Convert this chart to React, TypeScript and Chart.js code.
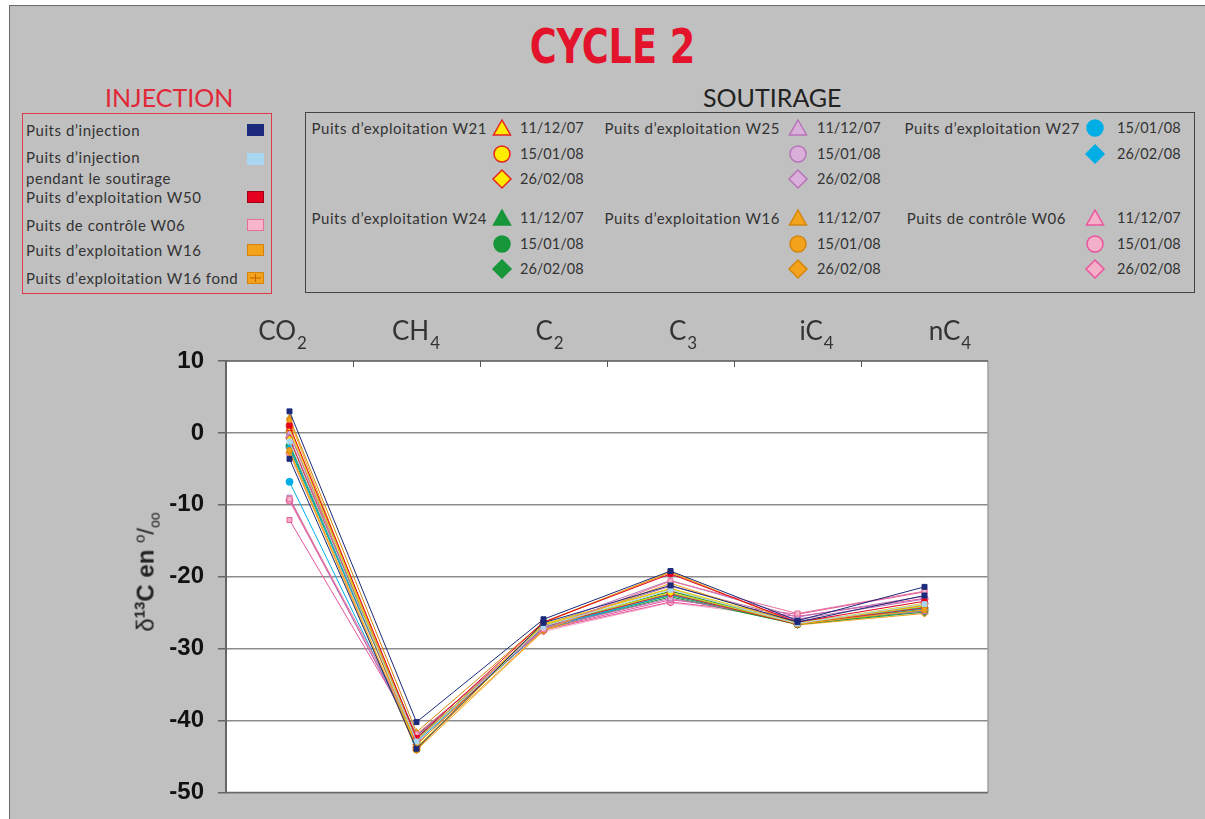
import React, { useEffect, useRef } from "react";
import { Chart, registerables } from "chart.js";

Chart.register(...registerables);

// ---------- DATA ----------
const categories = ["CO2", "CH4", "C2", "C3", "iC4", "nC4"];
const categoryMain = ["CO", "CH", "C", "C", "iC", "nC"];
const categorySub = ["2", "4", "2", "3", "4", "4"];
const yTickValues = [10, 0, -10, -20, -30, -40, -50];

const injA = [3.0, -40.2, -25.9, -19.2, -26.1, -21.4];
const injB = [-3.6, -43.9, -26.4, -21.2, -26.3, -22.6];
const injSout = [-1.2, -42.9, -26.9, -21.8, -26.5, -23.8];
const expW50 = [1.0, -42.4, -26.3, -19.6, -26.3, -23.4];
const ctlW06 = [-9.2, -41.9, -27.3, -20.6, -25.1, -22.0];
const expW16 = [1.8, -43.4, -26.4, -19.3, -26.6, -23.9];
const expW16Fond = [-2.4, -43.8, -27.4, -20.9, -26.6, -24.6];
const w21_1112 = [0.6, -42.7, -26.6, -21.6, -26.4, -24.1];
const w21_1501 = [1.0, -43.7, -26.7, -22.2, -26.5, -23.7];
const w21_2602 = [-0.8, -43.3, -26.9, -22.4, -26.6, -24.3];
const w25_1112 = [0.0, -42.2, -26.8, -20.5, -25.6, -22.7];
const w25_1501 = [-0.6, -42.6, -26.9, -21.3, -25.9, -23.1];
const w25_2602 = [-9.0, -42.8, -27.1, -23.0, -26.1, -24.8];
const w27_1501 = [-6.8, -43.0, -27.2, -22.5, -26.4, -24.4];
const w27_2602 = [-2.0, -42.8, -27.1, -22.3, -26.4, -24.2];
const w24_1112 = [-1.5, -42.1, -27.0, -22.0, -26.5, -24.5];
const w24_1501 = [-1.8, -42.5, -27.1, -22.6, -26.6, -24.7];
const w24_2602 = [-2.1, -42.9, -27.2, -22.8, -26.6, -24.9];
const w16_1112 = [2.1, -41.6, -26.3, -19.4, -26.5, -24.0];
const w16_1501 = [0.2, -44.0, -26.6, -21.7, -26.6, -24.6];
const w16_2602 = [-2.7, -44.1, -27.5, -22.0, -26.7, -25.1];
const w06_1112 = [-12.1, -42.0, -27.3, -23.2, -25.2, -22.1];
const w06_1501 = [-9.4, -42.4, -27.4, -23.5, -25.5, -23.0];
const w06_2602 = [-3.0, -42.6, -27.6, -23.6, -25.8, -25.0];

const injectionLabels = [
  "Puits d’injection",
  "Puits d’injection pendant le soutirage",
  "Puits d’exploitation W50",
  "Puits de contrôle W06",
  "Puits d’exploitation W16",
  "Puits d’exploitation W16 fond",
];
const dateLabels = ["11/12/07", "15/01/08", "26/02/08"];

// ---------- STYLES ----------
const C = {
  navy: "#1b2a7a",
  lightBlue: "#a9d6f0",
  red: "#e5001f",
  pinkFill: "#f7b6cb",
  pinkStroke: "#e46f9b",
  orange: "#f2a31b",
  orangeDark: "#d4860c",
  yellow: "#ffec00",
  yellowLine: "#e2d400",
  w21Stroke: "#e52420",
  purpleFill: "#dab0da",
  purpleStroke: "#b873b8",
  cyan: "#00aee6",
  green: "#17963a",
  w06Fill: "#f4b0c9",
  w06Stroke: "#e8559c",
};

type DS = { label: string; data: number[]; line: string; fill: string; stroke: string; style: any };
const seriesList: DS[] = [
  { label: "Puits d’injection", data: injA, line: C.navy, fill: C.navy, stroke: C.navy, style: "rect" },
  { label: "Puits d’injection (2)", data: injB, line: C.navy, fill: C.navy, stroke: C.navy, style: "rect" },
  { label: "Puits d’injection pendant le soutirage", data: injSout, line: C.lightBlue, fill: C.lightBlue, stroke: C.lightBlue, style: "rect" },
  { label: "Puits d’exploitation W50", data: expW50, line: C.red, fill: C.red, stroke: C.red, style: "rect" },
  { label: "Puits de contrôle W06", data: ctlW06, line: C.pinkStroke, fill: C.pinkFill, stroke: C.pinkStroke, style: "rect" },
  { label: "Puits d’exploitation W16", data: expW16, line: C.orange, fill: C.orange, stroke: C.orangeDark, style: "rect" },
  { label: "Puits d’exploitation W16 fond", data: expW16Fond, line: C.orange, fill: C.orange, stroke: C.orangeDark, style: "rect" },
  { label: "W21 11/12/07", data: w21_1112, line: C.yellowLine, fill: C.yellow, stroke: C.w21Stroke, style: "triangle" },
  { label: "W21 15/01/08", data: w21_1501, line: C.yellowLine, fill: C.yellow, stroke: C.w21Stroke, style: "circle" },
  { label: "W21 26/02/08", data: w21_2602, line: C.w21Stroke, fill: C.yellow, stroke: C.w21Stroke, style: "rectRot" },
  { label: "W25 11/12/07", data: w25_1112, line: C.purpleStroke, fill: C.purpleFill, stroke: C.purpleStroke, style: "triangle" },
  { label: "W25 15/01/08", data: w25_1501, line: C.purpleStroke, fill: C.purpleFill, stroke: C.purpleStroke, style: "circle" },
  { label: "W25 26/02/08", data: w25_2602, line: C.purpleStroke, fill: C.purpleFill, stroke: C.purpleStroke, style: "rect" },
  { label: "W27 15/01/08", data: w27_1501, line: C.cyan, fill: C.cyan, stroke: C.cyan, style: "circle" },
  { label: "W27 26/02/08", data: w27_2602, line: C.cyan, fill: C.cyan, stroke: C.cyan, style: "rectRot" },
  { label: "W24 11/12/07", data: w24_1112, line: C.green, fill: C.green, stroke: C.green, style: "triangle" },
  { label: "W24 15/01/08", data: w24_1501, line: C.green, fill: C.green, stroke: C.green, style: "circle" },
  { label: "W24 26/02/08", data: w24_2602, line: C.green, fill: C.green, stroke: C.green, style: "rectRot" },
  { label: "W16 11/12/07", data: w16_1112, line: C.orangeDark, fill: C.orange, stroke: C.orangeDark, style: "triangle" },
  { label: "W16 15/01/08", data: w16_1501, line: C.orange, fill: C.orange, stroke: C.orangeDark, style: "circle" },
  { label: "W16 26/02/08", data: w16_2602, line: C.orange, fill: C.orange, stroke: C.orangeDark, style: "rectRot" },
  { label: "W06 11/12/07", data: w06_1112, line: C.w06Stroke, fill: C.w06Fill, stroke: C.w06Stroke, style: "rect" },
  { label: "W06 15/01/08", data: w06_1501, line: C.w06Stroke, fill: C.w06Fill, stroke: C.w06Stroke, style: "circle" },
  { label: "W06 26/02/08", data: w06_2602, line: C.w06Fill, fill: C.w06Fill, stroke: C.w06Stroke, style: "rectRot" },
];

const framePlugin = {
  id: "framePlugin",
  beforeDraw(chart: any) {
    const { ctx, chartArea: a } = chart;
    ctx.save();
    ctx.fillStyle = "#ffffff";
    ctx.fillRect(a.left, a.top, a.right - a.left, a.bottom - a.top);
    ctx.restore();
  },
  afterDraw(chart: any) {
    const { ctx, chartArea: a } = chart;
    const xs = chart.scales.x;
    ctx.save();
    ctx.lineWidth = 1.5;
    ctx.strokeStyle = "#a0a0a0";
    ctx.beginPath();
    ctx.moveTo(a.right, a.top);
    ctx.lineTo(a.right, a.bottom);
    ctx.stroke();
    ctx.strokeStyle = "#6a6a6a";
    ctx.beginPath();
    ctx.moveTo(a.left, a.top);
    ctx.lineTo(a.right, a.top);
    ctx.moveTo(a.left, a.bottom);
    ctx.lineTo(a.right, a.bottom);
    ctx.stroke();
    // top category boundary ticks (inward)
    ctx.lineWidth = 1;
    ctx.strokeStyle = "#555";
    ctx.beginPath();
    for (let i = 1; i < categories.length; i++) {
      const bx = Math.round((xs.getPixelForValue(i - 1) + xs.getPixelForValue(i)) / 2) + 0.5;
      ctx.moveTo(bx, a.top);
      ctx.lineTo(bx, a.top + 6);
    }
    ctx.stroke();
    // category labels with subscripts
    ctx.fillStyle = "#333";
    ctx.textBaseline = "alphabetic";
    ctx.textAlign = "left";
    for (let i = 0; i < categories.length; i++) {
      const cx = xs.getPixelForValue(i) + (i * 6.5 - 7);
      ctx.font = "26px Lato";
      const mw = ctx.measureText(categoryMain[i]).width;
      ctx.font = "17px Lato";
      const sw = ctx.measureText(categorySub[i]).width;
      const start = cx - (mw + sw + 1) / 2;
      ctx.font = "26px Lato";
      ctx.fillText(categoryMain[i], start, a.top - 21);
      ctx.font = "17px Lato";
      ctx.fillText(categorySub[i], start + mw + 1, a.top - 12);
    }
    ctx.restore();
  },
};

function ChartCanvas() {
  const ref = useRef<HTMLCanvasElement | null>(null);
  useEffect(() => {
    if (!ref.current) return;
    const chart = new Chart(ref.current, {
      type: "line",
      data: {
        labels: categories,
        datasets: seriesList.map((s) => ({
          label: s.label,
          data: s.data,
          borderColor: s.line,
          backgroundColor: s.fill,
          pointBackgroundColor: s.fill,
          pointBorderColor: s.stroke,
          pointStyle: s.style,
          pointRadius: 3.5,
          pointBorderWidth: 1,
          borderWidth: 1,
          tension: 0,
          fill: false,
        })),
      },
      options: {
        responsive: false,
        animation: false,
        devicePixelRatio: 1,
        layout: { padding: { left: 0, top: 0, right: 12, bottom: 19 } },
        plugins: { legend: { display: false }, tooltip: { enabled: false }, title: { display: false } },
        scales: {
          x: {
            type: "category",
            position: "top",
            offset: true,
            grid: { display: false },
            border: { display: false },
            ticks: { display: false },
            afterFit: (s: any) => {
              s.height = 61;
            },
          },
          y: {
            min: -50,
            max: 10,
            afterBuildTicks: (s: any) => {
              s.ticks = yTickValues.map((v) => ({ value: v }));
            },
            ticks: {
              color: "#111",
              padding: 14,
              font: { family: "'Liberation Sans', Arial, sans-serif", size: 24, weight: "bold" },
            },
            grid: { color: "#8c8c8c", lineWidth: 1.5, tickLength: 8, tickColor: "#666", drawTicks: true },
            border: { display: true, color: "#666", width: 2 },
            afterFit: (s: any) => {
              s.width = 106;
            },
          },
        },
      },
      plugins: [framePlugin],
    } as any);
    return () => chart.destroy();
  }, []);
  return (
    <canvas
      ref={ref}
      width={880}
      height={521}
      style={{ position: "absolute", left: 120, top: 300, width: 880, height: 521 }}
    />
  );
}

function Marker({ shape, fill, stroke, x, y, size = 20 }: any) {
  const s = size;
  const c = s / 2;
  let el: any = null;
  if (shape === "triangle") el = <polygon points={`${c},2 ${s - 1.5},${s - 3} 1.5,${s - 3}`} />;
  else if (shape === "circle") el = <circle cx={c} cy={c} r={c - 2} />;
  else el = <polygon points={`${c},1 ${s - 1},${c} ${c},${s - 1} 1,${c}`} />;
  return (
    <svg
      width={s}
      height={s}
      style={{ position: "absolute", left: x - c, top: y - c, overflow: "visible" }}
      fill={fill}
      stroke={stroke}
      strokeWidth={1.5}
    >
      {el}
    </svg>
  );
}

const textStyle: any = {
  position: "absolute",
  fontFamily: "Lato, 'Open Sans', sans-serif",
  fontSize: 14,
  lineHeight: "18px",
  color: "#333",
  whiteSpace: "nowrap",
};

const labelStyle: any = { ...textStyle, fontSize: 15, letterSpacing: "0.55px" };

const W = 1205;

function SoutGroup({ label, labelRight, markerX, dateX, y0, rows, fill, stroke, dates }: any) {
  return (
    <>
      <div style={{ ...labelStyle, right: W - labelRight, top: y0 - 9 }}>{label}</div>
      {rows.map((shape: string, i: number) => (
        <React.Fragment key={i}>
          <Marker shape={shape} fill={fill} stroke={stroke} x={markerX} y={y0 + i * 25.5} />
          <div style={{ ...textStyle, fontSize: 14.5, left: dateX, top: y0 + i * 25.5 - 9 }}>{dates[i]}</div>
        </React.Fragment>
      ))}
    </>
  );
}

export default function App() {
  const injRows = [
    { y: 130, color: C.navy, border: C.navy },
    { y: 157, color: C.lightBlue, border: C.lightBlue, two: true },
    { y: 197, color: C.red, border: "#a00015" },
    { y: 225, color: C.pinkFill, border: C.pinkStroke },
    { y: 250, color: C.orange, border: C.orangeDark },
    { y: 278, color: C.orange, border: C.orangeDark, cross: true },
  ];
  return (
    <div style={{ position: "absolute", left: 0, top: 0, width: 1205, height: 819, overflow: "hidden", background: "#fff" }}>
      <div
        style={{
          position: "absolute",
          left: 9,
          top: 5,
          width: 1210,
          height: 830,
          background: "#c0c0c0",
          border: "1px solid #6a6a6a",
        }}
      />
      <div
        style={{
          position: "absolute",
          left: 0,
          width: 1225,
          top: 18,
          textAlign: "center",
          fontFamily: "'Liberation Sans Narrow', 'DejaVu Sans Condensed', sans-serif",
          fontWeight: "bold",
          fontSize: 48,
          lineHeight: "56px",
          color: "#e3132c",
        }}
      >
        <span style={{ display: "inline-block", transform: "scaleX(0.85)" }}>CYCLE 2</span>
      </div>
      <div style={{ ...textStyle, left: 105, top: 82, fontSize: 25, lineHeight: "30px", color: "#e02838" }}>INJECTION</div>
      <div style={{ ...textStyle, left: 703, top: 82, fontSize: 25, lineHeight: "30px", color: "#222" }}>SOUTIRAGE</div>

      {/* Injection legend */}
      <div style={{ position: "absolute", left: 22, top: 113, width: 248, height: 179, border: "1.5px solid #e03a4a" }} />
      {injRows.map((r, i) => (
        <React.Fragment key={i}>
          {r.two ? (
            <>
              <div style={{ ...labelStyle, left: 26, top: r.y - 9 }}>Puits d’injection</div>
              <div style={{ ...labelStyle, left: 26, top: r.y + 12 }}>pendant le soutirage</div>
            </>
          ) : (
            <div style={{ ...labelStyle, left: 26, top: r.y - 9 }}>{injectionLabels[i]}</div>
          )}
          <div
            style={{
              position: "absolute",
              left: 247,
              top: r.y - 6 + (r.two ? 2 : 0),
              width: 17,
              height: 12,
              background: r.color,
              border: `1px solid ${r.border}`,
              boxSizing: "border-box",
            }}
          >
            {r.cross ? (
              <svg width={17} height={12} style={{ position: "absolute", left: -1, top: -1 }}>
                <line x1={8.5} y1={2} x2={8.5} y2={10} stroke="#c86000" strokeWidth={1} />
                <line x1={3} y1={6} x2={14} y2={6} stroke="#c86000" strokeWidth={1} />
              </svg>
            ) : null}
          </div>
        </React.Fragment>
      ))}

      {/* Soutirage legend */}
      <div style={{ position: "absolute", left: 305, top: 112, width: 888, height: 179, border: "1.5px solid #444" }} />
      <SoutGroup label="Puits d’exploitation W21" labelRight={487} markerX={502} dateX={520} y0={128}
        rows={["triangle", "circle", "diamond"]} fill={C.yellow} stroke={C.w21Stroke} dates={dateLabels} />
      <SoutGroup label="Puits d’exploitation W25" labelRight={780} markerX={798} dateX={817} y0={128}
        rows={["triangle", "circle", "diamond"]} fill={C.purpleFill} stroke={C.purpleStroke} dates={dateLabels} />
      <SoutGroup label="Puits d’exploitation W27" labelRight={1080} markerX={1095} dateX={1117} y0={128}
        rows={["circle", "diamond"]} fill={C.cyan} stroke={C.cyan} dates={[dateLabels[1], dateLabels[2]]} />
      <SoutGroup label="Puits d’exploitation W24" labelRight={487} markerX={502} dateX={520} y0={218}
        rows={["triangle", "circle", "diamond"]} fill={C.green} stroke={C.green} dates={dateLabels} />
      <SoutGroup label="Puits d’exploitation W16" labelRight={780} markerX={798} dateX={817} y0={218}
        rows={["triangle", "circle", "diamond"]} fill={C.orange} stroke={C.orangeDark} dates={dateLabels} />
      <SoutGroup label="Puits de contrôle W06" labelRight={1066} markerX={1095} dateX={1117} y0={218}
        rows={["triangle", "circle", "diamond"]} fill={C.w06Fill} stroke={C.w06Stroke} dates={dateLabels} />

      <ChartCanvas />

      {/* Y axis title */}
      <div
        style={{
          position: "absolute",
          left: 147,
          top: 572,
          transform: "translate(-50%, -50%) rotate(-90deg)",
          fontFamily: "'Liberation Sans', Arial, sans-serif",
          fontWeight: "bold",
          fontSize: 24,
          color: "#222",
          whiteSpace: "nowrap",
          lineHeight: "28px",
        }}
      >
        <span style={{ fontWeight: "normal" }}>δ</span>
        <sup style={{ fontSize: 15 }}>13</sup>C en <sup style={{ fontSize: 15, fontWeight: "normal" }}>o</sup>
        <span style={{ fontWeight: "normal" }}>/</span>
        <sub style={{ fontSize: 14, fontWeight: "normal" }}>oo</sub>
      </div>
    </div>
  );
}
